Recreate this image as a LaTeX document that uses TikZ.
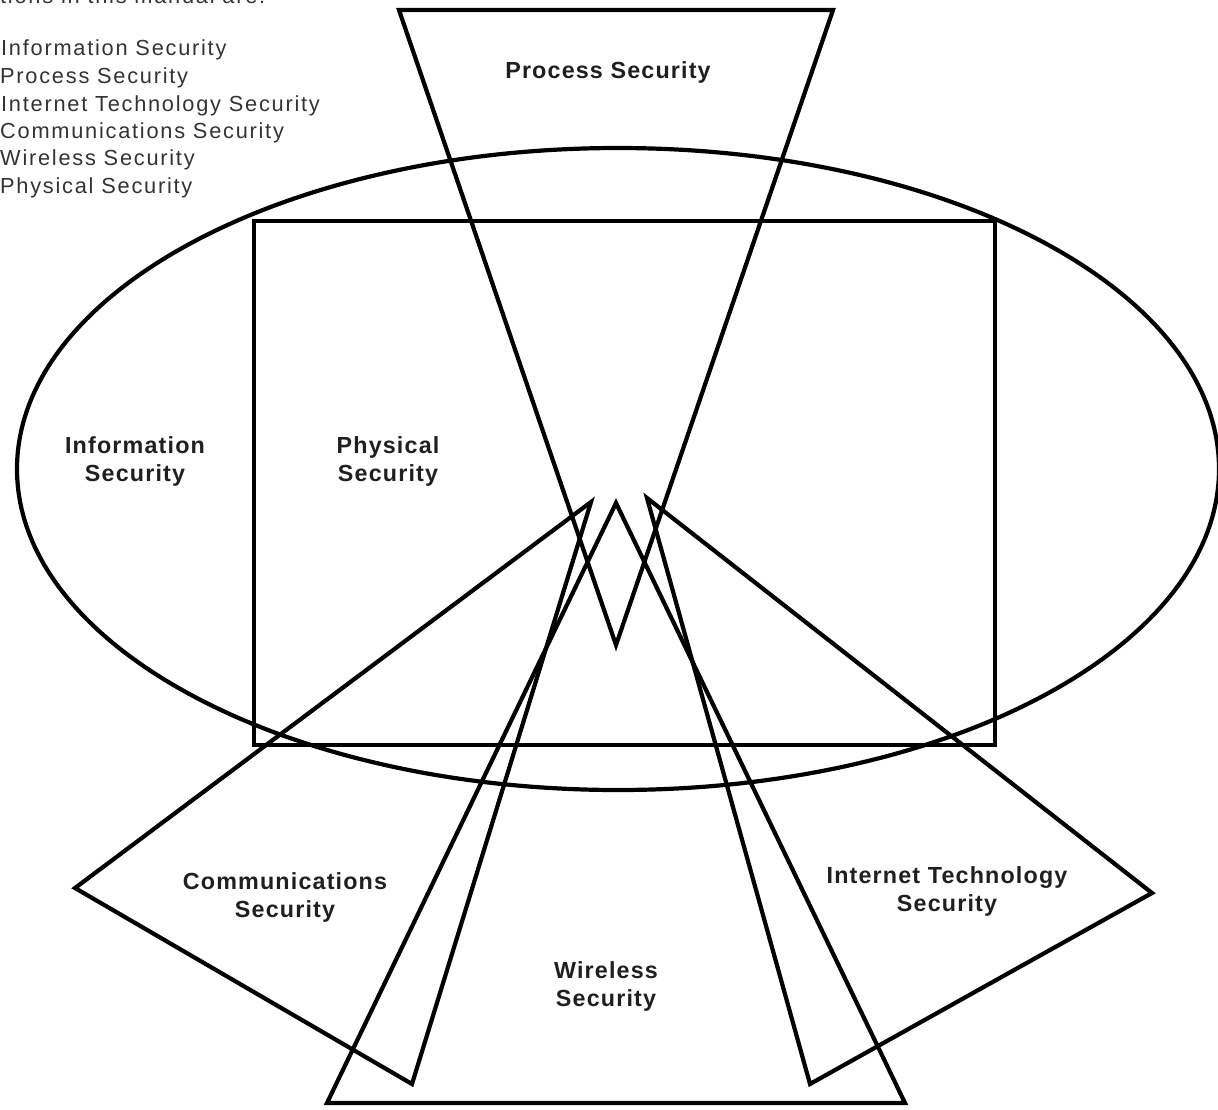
\documentclass[tikz,border=0pt]{standalone}
\usepackage{fontspec}
\setmainfont{Liberation Sans}
\newfontfamily\legendfont[LetterSpace=8]{Liberation Sans}
\newfontfamily\lblfont[LetterSpace=5]{Liberation Sans}
\begin{document}
\begin{tikzpicture}[x=1pt,y=-1pt,
  outline/.style={line width=4.2pt, line join=miter, black},
  legend/.style={font=\legendfont\fontsize{21.8}{25}\selectfont, text=black!80, anchor=base west, inner sep=0pt},
  lbl/.style={font=\lblfont\bfseries\fontsize{23.3}{28}\selectfont, text=black!88, align=center, inner sep=0pt}]
\clip (0,0) rectangle (1218,1109);
\useasboundingbox (0,0) rectangle (1218,1109);
% legend
\node[legend] (l0) at (0,3) {tions in this manual are:};
\node[legend] (l1) at (1,55) {Information Security};
\node[legend] (l2) at (0,83) {Process Security};
\node[legend] (l3) at (1,111) {Internet Technology Security};
\node[legend] (l4) at (0,138) {Communications Security};
\node[legend] (l5) at (0,165) {Wireless Security};
\node[legend] (l6) at (0,193) {Physical Security};
% information security ellipse
\draw[outline] (618,469) ellipse [x radius=601pt, y radius=321pt];
% physical security rectangle
\coordinate (r1) at (254,221);
\coordinate (r2) at (995,745);
\draw[outline] (r1) rectangle (r2);
% process security
\coordinate (p1) at (399,10);
\coordinate (p2) at (833,10);
\coordinate (p3) at (616,645);
\draw[outline] (p1) -- (p2) -- (p3) -- cycle;
% wireless security
\coordinate (w1) at (616,503);
\coordinate (w2) at (905,1103);
\coordinate (w3) at (327,1103);
\draw[outline] (w1) -- (w2) -- (w3) -- cycle;
% communications security
\coordinate (c1) at (591,502);
\coordinate (c2) at (75,888);
\coordinate (c3) at (412,1084);
\draw[outline] (c1) -- (c2) -- (c3) -- cycle;
% internet technology security
\coordinate (i1) at (647,498);
\coordinate (i2) at (1152,893);
\coordinate (i3) at (810,1084);
\draw[outline] (i1) -- (i2) -- (i3) -- cycle;
% labels
\node[lbl] (tp) at (608,72) {Process Security};
\node[lbl] (ti) at (135,461) {Information\\Security};
\node[lbl] (tph) at (388,461) {Physical\\Security};
\node[lbl] (tc) at (285,897) {Communications\\Security};
\node[lbl] (tit) at (947,891) {Internet Technology\\Security};
\node[lbl] (tw) at (606,986) {Wireless\\Security};
\end{tikzpicture}
\end{document}
